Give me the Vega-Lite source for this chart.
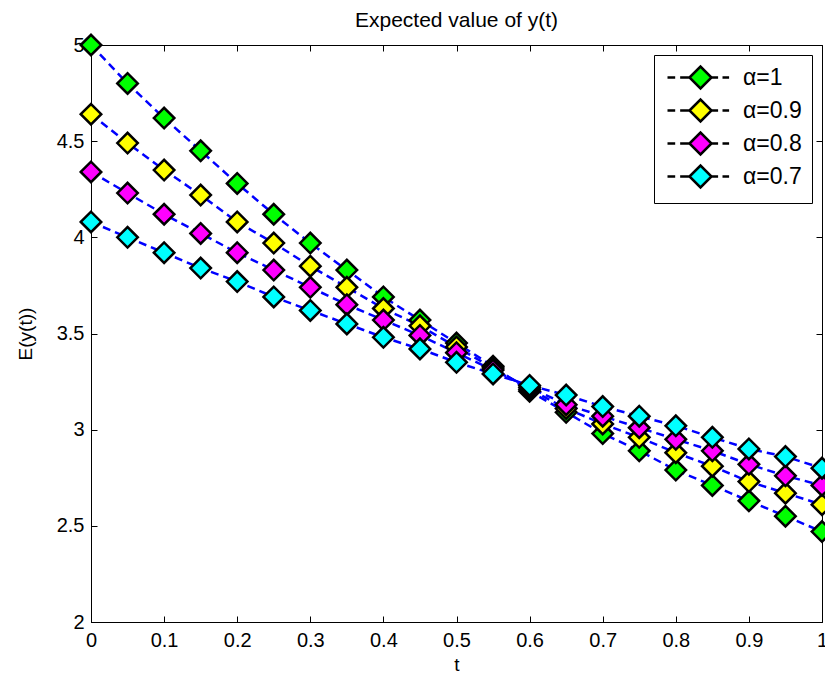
{
  "$schema": "https://vega.github.io/schema/vega-lite/v6.json",
  "width": 731,
  "height": 577,
  "autosize": {"type": "none"},
  "padding": {"left": 91, "top": 45, "right": 3, "bottom": 53},
  "background": "white",
  "config": {
    "font": "Liberation Sans",
    "view": {"stroke": "black", "strokeWidth": 1},
    "axis": {
      "grid": false,
      "domainColor": "black",
      "domainWidth": 1,
      "tickColor": "black",
      "tickSize": -6,
      "tickWidth": 1,
      "labelColor": "black",
      "labelFont": "Liberation Sans",
      "labelFontSize": 20,
      "titleFont": "Liberation Sans",
      "titleFontSize": 19,
      "titleFontWeight": "normal",
      "titleColor": "black"
    }
  },
  "title": {
    "text": "Expected value of y(t)",
    "font": "Liberation Sans",
    "fontSize": 21,
    "fontWeight": "normal",
    "color": "black",
    "anchor": "middle",
    "offset": -1
  },
  "data": {
    "values": [
      {"t": 0, "y": 5.00, "s": "α=1"}, {"t": 0.05, "y": 4.80, "s": "α=1"}, {"t": 0.1, "y": 4.62, "s": "α=1"}, {"t": 0.15, "y": 4.45, "s": "α=1"}, {"t": 0.2, "y": 4.28, "s": "α=1"}, {"t": 0.25, "y": 4.12, "s": "α=1"}, {"t": 0.3, "y": 3.97, "s": "α=1"}, {"t": 0.35, "y": 3.83, "s": "α=1"}, {"t": 0.4, "y": 3.69, "s": "α=1"}, {"t": 0.45, "y": 3.57, "s": "α=1"}, {"t": 0.5, "y": 3.45, "s": "α=1"}, {"t": 0.55, "y": 3.33, "s": "α=1"}, {"t": 0.6, "y": 3.20, "s": "α=1"}, {"t": 0.65, "y": 3.09, "s": "α=1"}, {"t": 0.7, "y": 2.98, "s": "α=1"}, {"t": 0.75, "y": 2.89, "s": "α=1"}, {"t": 0.8, "y": 2.79, "s": "α=1"}, {"t": 0.85, "y": 2.71, "s": "α=1"}, {"t": 0.9, "y": 2.63, "s": "α=1"}, {"t": 0.95, "y": 2.55, "s": "α=1"}, {"t": 1, "y": 2.47, "s": "α=1"},
      {"t": 0, "y": 4.64, "s": "α=0.9"}, {"t": 0.05, "y": 4.49, "s": "α=0.9"}, {"t": 0.1, "y": 4.35, "s": "α=0.9"}, {"t": 0.15, "y": 4.22, "s": "α=0.9"}, {"t": 0.2, "y": 4.08, "s": "α=0.9"}, {"t": 0.25, "y": 3.97, "s": "α=0.9"}, {"t": 0.3, "y": 3.85, "s": "α=0.9"}, {"t": 0.35, "y": 3.74, "s": "α=0.9"}, {"t": 0.4, "y": 3.63, "s": "α=0.9"}, {"t": 0.45, "y": 3.54, "s": "α=0.9"}, {"t": 0.5, "y": 3.43, "s": "α=0.9"}, {"t": 0.55, "y": 3.32, "s": "α=0.9"}, {"t": 0.6, "y": 3.21, "s": "α=0.9"}, {"t": 0.65, "y": 3.11, "s": "α=0.9"}, {"t": 0.7, "y": 3.03, "s": "α=0.9"}, {"t": 0.75, "y": 2.96, "s": "α=0.9"}, {"t": 0.8, "y": 2.88, "s": "α=0.9"}, {"t": 0.85, "y": 2.81, "s": "α=0.9"}, {"t": 0.9, "y": 2.73, "s": "α=0.9"}, {"t": 0.95, "y": 2.67, "s": "α=0.9"}, {"t": 1, "y": 2.61, "s": "α=0.9"},
      {"t": 0, "y": 4.34, "s": "α=0.8"}, {"t": 0.05, "y": 4.23, "s": "α=0.8"}, {"t": 0.1, "y": 4.12, "s": "α=0.8"}, {"t": 0.15, "y": 4.02, "s": "α=0.8"}, {"t": 0.2, "y": 3.92, "s": "α=0.8"}, {"t": 0.25, "y": 3.83, "s": "α=0.8"}, {"t": 0.3, "y": 3.74, "s": "α=0.8"}, {"t": 0.35, "y": 3.65, "s": "α=0.8"}, {"t": 0.4, "y": 3.57, "s": "α=0.8"}, {"t": 0.45, "y": 3.49, "s": "α=0.8"}, {"t": 0.5, "y": 3.40, "s": "α=0.8"}, {"t": 0.55, "y": 3.31, "s": "α=0.8"}, {"t": 0.6, "y": 3.22, "s": "α=0.8"}, {"t": 0.65, "y": 3.13, "s": "α=0.8"}, {"t": 0.7, "y": 3.07, "s": "α=0.8"}, {"t": 0.75, "y": 3.01, "s": "α=0.8"}, {"t": 0.8, "y": 2.95, "s": "α=0.8"}, {"t": 0.85, "y": 2.89, "s": "α=0.8"}, {"t": 0.9, "y": 2.82, "s": "α=0.8"}, {"t": 0.95, "y": 2.76, "s": "α=0.8"}, {"t": 1, "y": 2.71, "s": "α=0.8"},
      {"t": 0, "y": 4.08, "s": "α=0.7"}, {"t": 0.05, "y": 4.00, "s": "α=0.7"}, {"t": 0.1, "y": 3.92, "s": "α=0.7"}, {"t": 0.15, "y": 3.84, "s": "α=0.7"}, {"t": 0.2, "y": 3.77, "s": "α=0.7"}, {"t": 0.25, "y": 3.69, "s": "α=0.7"}, {"t": 0.3, "y": 3.62, "s": "α=0.7"}, {"t": 0.35, "y": 3.55, "s": "α=0.7"}, {"t": 0.4, "y": 3.48, "s": "α=0.7"}, {"t": 0.45, "y": 3.42, "s": "α=0.7"}, {"t": 0.5, "y": 3.35, "s": "α=0.7"}, {"t": 0.55, "y": 3.29, "s": "α=0.7"}, {"t": 0.6, "y": 3.23, "s": "α=0.7"}, {"t": 0.65, "y": 3.18, "s": "α=0.7"}, {"t": 0.7, "y": 3.12, "s": "α=0.7"}, {"t": 0.75, "y": 3.07, "s": "α=0.7"}, {"t": 0.8, "y": 3.02, "s": "α=0.7"}, {"t": 0.85, "y": 2.96, "s": "α=0.7"}, {"t": 0.9, "y": 2.90, "s": "α=0.7"}, {"t": 0.95, "y": 2.86, "s": "α=0.7"}, {"t": 1, "y": 2.80, "s": "α=0.7"}
    ]
  },
  "layer": [
    {
      "mark": {"type": "line", "color": "#0000ff", "strokeWidth": 2.5, "strokeDash": [8, 5]},
      "encoding": {
        "x": {
          "field": "t", "type": "quantitative",
          "scale": {"domain": [0, 1], "nice": false, "zero": false},
          "axis": {"title": "t", "values": [0, 0.1, 0.2, 0.3, 0.4, 0.5, 0.6, 0.7, 0.8, 0.9, 1], "labelPadding": 14, "titlePadding": 5, "labelFlush": false, "labelExpr": "format(datum.value, '~g')"}
        },
        "y": {
          "field": "y", "type": "quantitative",
          "scale": {"domain": [2, 5], "nice": false, "zero": false},
          "axis": {"title": "E(y(t))", "values": [2, 2.5, 3, 3.5, 4, 4.5, 5], "labelPadding": 13, "titlePadding": 21, "labelFlush": false, "labelExpr": "format(datum.value, '~g')"}
        },
        "detail": {"field": "s", "type": "nominal"},
        "order": {"field": "t", "type": "quantitative"}
      }
    },
    {
      "mark": {"type": "point", "shape": "diamond", "filled": true, "size": 420, "stroke": "black", "strokeWidth": 2.5, "opacity": 1},
      "encoding": {
        "x": {
          "field": "t", "type": "quantitative",
          "scale": {"domain": [0, 1], "nice": false, "zero": false},
          "axis": {"orient": "top", "title": null, "labels": false, "domain": false, "minExtent": 0, "maxExtent": 0, "values": [0, 0.1, 0.2, 0.3, 0.4, 0.5, 0.6, 0.7, 0.8, 0.9, 1]}
        },
        "y": {
          "field": "y", "type": "quantitative",
          "scale": {"domain": [2, 5], "nice": false, "zero": false},
          "axis": {"orient": "right", "title": null, "labels": false, "domain": false, "minExtent": 0, "maxExtent": 0, "values": [2, 2.5, 3, 3.5, 4, 4.5, 5]}
        },
        "fill": {
          "field": "s", "type": "nominal",
          "sort": ["α=1", "α=0.9", "α=0.8", "α=0.7"],
          "scale": {"domain": ["α=1", "α=0.9", "α=0.8", "α=0.7"], "range": ["#00ff00", "#ffff00", "#ff00ff", "#00ffff"]},
          "legend": {
            "title": null,
            "orient": "top-right",
            "offset": 10,
            "padding": 10,
            "strokeColor": "black",
            "fillColor": "white",
            "symbolType": "M-1,0L0,-1L1,0L0,1Z M-3,0L-2.3,0 M-1.85,0L-1.05,0 M1.05,0L1.6,0 M2.0,0L2.6,0",
            "symbolSize": 484,
            "symbolStrokeColor": "black",
            "symbolStrokeWidth": 2.5,
            "symbolOpacity": 1,
            "symbolOffset": 24,
            "labelOffset": 30,
            "labelFontSize": 23,
            "labelFont": "Liberation Sans",
            "labelColor": "black",
            "rowPadding": 0
          }
        }
      }
    }
  ],
  "resolve": {"axis": {"x": "independent", "y": "independent"}}
}
